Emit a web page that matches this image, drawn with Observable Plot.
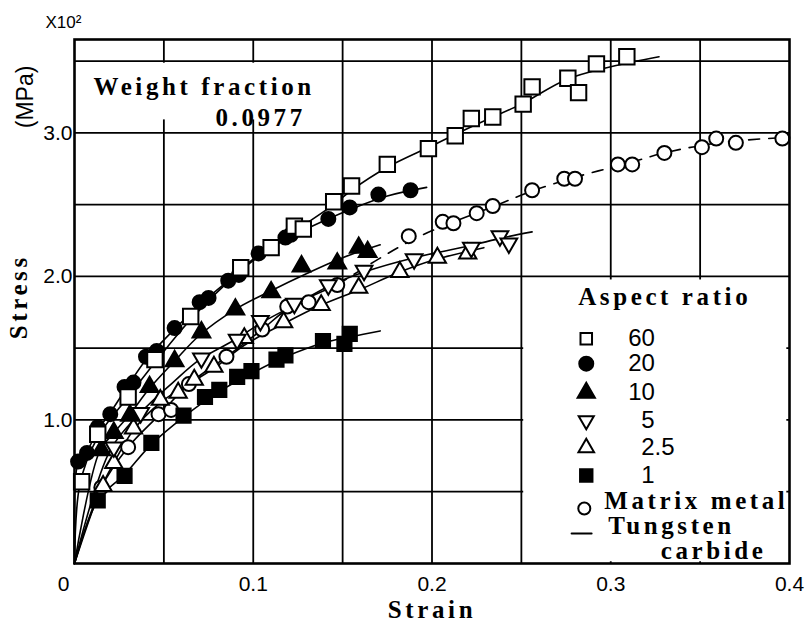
<!DOCTYPE html>
<html><head><meta charset="utf-8">
<script src="https://cdn.jsdelivr.net/npm/d3@7"></script>
<script src="https://cdn.jsdelivr.net/npm/@observablehq/plot@0.6"></script>
<style>
body{margin:0;background:#fff}
svg{display:block}
g[font-family*="Serif"] text{letter-spacing:3.6px}
</style>
</head><body><div id="chart"></div>
<script>
// ---------------- data (strain, stress x10^2 MPa) ----------------
const aspectLabels = ["60", "20", "10", "5", "2.5", "1"];
const matrixLabel = "Matrix metal";
const fitLabel = ["Tungsten", "carbide"];
const weightFraction = "0.0977";

const strain60 = [0.004,0.013,0.030,0.045,0.065,0.093,0.110,0.123,0.128,0.145,0.155,0.175,0.198,0.213,0.222,0.234,0.251,0.256,0.276,0.282,0.292,0.309];
const stress60 = [0.57,0.90,1.16,1.42,1.72,2.06,2.20,2.35,2.33,2.52,2.63,2.78,2.89,2.98,3.10,3.11,3.20,3.32,3.38,3.28,3.48,3.53];

const strain20 = [0.002,0.007,0.013,0.020,0.028,0.033,0.040,0.046,0.056,0.070,0.075,0.086,0.092,0.103,0.118,0.121,0.142,0.154,0.170,0.188];
const stress20 = [0.71,0.77,0.95,1.04,1.23,1.26,1.44,1.48,1.64,1.82,1.85,1.97,2.01,2.16,2.27,2.29,2.40,2.48,2.57,2.60];

const strain10 = [0.015,0.022,0.031,0.042,0.056,0.071,0.090,0.110,0.127,0.147,0.159,0.164];
const stress10 = [0.79,0.91,1.03,1.23,1.41,1.61,1.77,1.89,2.07,2.09,2.20,2.17];

const strain5 = [0.022,0.037,0.071,0.091,0.104,0.123,0.142,0.162,0.190,0.222,0.238,0.243];
const stress5 = [0.81,1.05,1.43,1.56,1.69,1.81,1.94,2.04,2.12,2.20,2.28,2.23];

const strain25 = [0.016,0.022,0.033,0.048,0.058,0.067,0.078,0.095,0.117,0.138,0.159,0.182,0.203,0.220];
const stress25 = [0.54,0.70,0.94,1.14,1.19,1.28,1.37,1.57,1.68,1.80,1.92,2.03,2.13,2.16];

const strain1 = [0.013,0.028,0.043,0.061,0.073,0.081,0.091,0.099,0.113,0.118,0.139,0.151,0.154];
const stress1 = [0.44,0.61,0.84,1.03,1.16,1.21,1.30,1.34,1.42,1.45,1.55,1.53,1.60];

const strainM = [0.015,0.030,0.047,0.054,0.064,0.085,0.105,0.119,0.131,0.147,0.187,0.206,0.212,0.225,0.234,0.256,0.274,0.280,0.304,0.312,0.330,0.351,0.359,0.370,0.396];
const stressM = [0.53,0.81,1.04,1.07,1.25,1.44,1.63,1.79,1.82,1.94,2.28,2.38,2.37,2.44,2.49,2.60,2.68,2.68,2.78,2.78,2.86,2.90,2.96,2.93,2.96];

// fitted curves
const fit60x = [0,0.003,0.013,0.030,0.045,0.065,0.093,0.110,0.125,0.145,0.155,0.175,0.200,0.225,0.250,0.275,0.300,0.327];
const fit60y = [0,0.55,0.88,1.16,1.40,1.70,2.04,2.20,2.33,2.50,2.60,2.76,2.91,3.06,3.20,3.37,3.46,3.53];
const fit20x = [0,0.002,0.007,0.013,0.020,0.030,0.040,0.055,0.070,0.085,0.100,0.120,0.140,0.155,0.175,0.197];
const fit20y = [0,0.70,0.78,0.93,1.05,1.24,1.42,1.62,1.80,1.96,2.12,2.27,2.39,2.47,2.56,2.62];
const fit10x = [0,0.014,0.022,0.031,0.042,0.056,0.070,0.090,0.110,0.130,0.150,0.171];
const fit10y = [0,0.78,0.91,1.04,1.22,1.41,1.59,1.77,1.90,2.02,2.13,2.22];
const fit5x = [0,0.020,0.037,0.055,0.070,0.090,0.105,0.123,0.142,0.162,0.190,0.220,0.240,0.256];
const fit5y = [0,0.79,1.05,1.26,1.42,1.56,1.68,1.80,1.93,2.03,2.13,2.21,2.27,2.31];
const fit25x = [0,0.015,0.022,0.033,0.048,0.060,0.078,0.095,0.117,0.138,0.160,0.180,0.200,0.229];
const fit25y = [0,0.53,0.70,0.93,1.12,1.22,1.36,1.52,1.67,1.80,1.91,2.02,2.11,2.20];
const fit1x = [0,0.013,0.028,0.043,0.061,0.080,0.100,0.118,0.140,0.155,0.171];
const fit1y = [0,0.44,0.62,0.83,1.02,1.19,1.33,1.44,1.54,1.58,1.62];
const fitMsolidx = [0,0.015,0.030,0.047,0.064,0.085,0.105,0.120,0.147];
const fitMsolidy = [0,0.53,0.81,1.03,1.25,1.44,1.63,1.78,1.94];
const fitMdashx = [0.147,0.170,0.190,0.210,0.235,0.255,0.280,0.310,0.330,0.360,0.400];
const fitMdashy = [1.94,2.12,2.26,2.37,2.49,2.59,2.69,2.79,2.86,2.93,2.97];

const xTicks = [0, 0.1, 0.2, 0.3, 0.4];
const xTickLabels = ["0", "0.1", "0.2", "0.3", "0.4"];
const yTicks = [1, 2, 3];
const yTickLabels = ["1.0", "2.0", "3.0"];
const gridX = [0.05, 0.10, 0.15, 0.20, 0.25, 0.30, 0.35];
const gridY = [0.5, 1.0, 1.5, 2.0, 2.5, 3.0, 3.5];

// ---------------- layout & style ----------------
const TYPE = "'Liberation Serif', 'DejaVu Serif', serif";
const SANS = "'Liberation Sans', Arial, sans-serif";
const zip = (xs, ys) => xs.map((x, i) => ({x, y: ys[i]}));
const pts = (xs, ys) => xs.map((x, i) => [x, ys[i]]);

const series = [
  {label: aspectLabels[0], xs: strain60, ys: stress60, fx: fit60x, fy: fit60y, symbol: "square",   fill: "white", r: 8.7, lr: 6.5, rot: 0},
  {label: aspectLabels[1], xs: strain20, ys: stress20, fx: fit20x, fy: fit20y, symbol: "circle",   fill: "black", r: 7,   lr: 7,   rot: 0},
  {label: aspectLabels[2], xs: strain10, ys: stress10, fx: fit10x, fy: fit10y, symbol: "triangle", fill: "black", r: 6.6, lr: 6.4, rot: 0},
  {label: aspectLabels[3], xs: strain5,  ys: stress5,  fx: fit5x,  fy: fit5y,  symbol: "triangle", fill: "white", r: 6.2, lr: 5.6, rot: 180},
  {label: aspectLabels[4], xs: strain25, ys: stress25, fx: fit25x, fy: fit25y, symbol: "triangle", fill: "white", r: 6.4, lr: 5.8, rot: 0},
  {label: aspectLabels[5], xs: strain1,  ys: stress1,  fx: fit1x,  fy: fit1y,  symbol: "square",   fill: "black", r: 8,   lr: 7,   rot: 0}
];
// legend rows (data units inside the empty lower-right box)
const legendRowY = [1.566, 1.392, 1.190, 0.995, 0.807, 0.613];
const legendNumX = [0.3098, 0.3098, 0.3098, 0.317, 0.317, 0.317];
const legendSymX = 0.2863;

const T = (s, x, y, o = {}) => Plot.text([s], {x, y, text: d => d, fontFamily: TYPE, fontWeight: "bold", fontSize: 25, ...o});

const marks = [];
// grid
marks.push(Plot.ruleX(gridX, {stroke: "black", strokeWidth: 1.8}));
marks.push(Plot.ruleY(gridY, {stroke: "black", strokeWidth: 1.8}));
// blank areas (legend box, weight fraction label)
marks.push(Plot.rect([0], {x1: 0.2513, x2: 0.3985, y1: 0.012, y2: 1.975, fill: "white"}));
marks.push(Plot.rect([0], {x1: 0.002, x2: 0.1487, y1: 3.09, y2: 3.485, fill: "white"}));
// fitted curves
for (const s of series) {
  marks.push(Plot.line(pts(s.fx, s.fy), {x: d => d[0], y: d => d[1], curve: "catmull-rom", stroke: "black", strokeWidth: 1.6}));
}
marks.push(Plot.line(pts(fitMsolidx, fitMsolidy), {x: d => d[0], y: d => d[1], curve: "catmull-rom", stroke: "black", strokeWidth: 1.6}));
marks.push(Plot.line(pts(fitMdashx, fitMdashy), {x: d => d[0], y: d => d[1], curve: "catmull-rom", stroke: "black", strokeWidth: 1.6, strokeDasharray: "11,9"}));
// markers (matrix first, then composites)
marks.push(Plot.dot(zip(strainM, stressM), {x: "x", y: "y", symbol: "circle", r: 7, fill: "white", stroke: "black", strokeWidth: 2}));
for (const s of [...series].reverse()) {
  marks.push(Plot.dot(zip(s.xs, s.ys), {x: "x", y: "y", symbol: s.symbol, r: s.r, rotate: s.rot, fill: s.fill, stroke: "black", strokeWidth: 2}));
}
// frame
marks.push(Plot.frame({stroke: "black", strokeWidth: 2.6}));
// legend
marks.push(T("Aspect ratio", 0.2818, 1.858, {textAnchor: "start"}));
series.forEach((s, i) => {
  marks.push(Plot.dot([0], {x: legendSymX, y: legendRowY[i], symbol: s.symbol, r: s.lr, rotate: s.rot, fill: s.fill, stroke: "black", strokeWidth: 2}));
  marks.push(Plot.text([s.label], {x: legendNumX[i], y: legendRowY[i], text: d => d, textAnchor: "start", fontFamily: SANS, fontSize: 24}));
});
marks.push(Plot.dot([0], {x: 0.2852, y: 0.383, symbol: "circle", r: 6, fill: "white", stroke: "black", strokeWidth: 2}));
marks.push(T(matrixLabel, 0.2964, 0.432, {textAnchor: "start"}));
marks.push(Plot.line([[0.2781, 0.209], [0.2893, 0.209]], {x: d => d[0], y: d => d[1], stroke: "black", strokeWidth: 2}));
marks.push(T(fitLabel[0], 0.2986, 0.258, {textAnchor: "start"}));
marks.push(T(fitLabel[1], 0.328, 0.088, {textAnchor: "start"}));
// weight fraction note
marks.push(T("Weight fraction", 0.0106, 3.32, {textAnchor: "start"}));
marks.push(T(weightFraction, 0.1294, 3.104, {textAnchor: "end"}));
// tick labels
marks.push(Plot.text([xTicks[0]], {x: d => d, y: -0.146, text: () => xTickLabels[0], dx: -11, fontFamily: SANS, fontSize: 21}));
marks.push(Plot.text(xTicks.slice(1), {x: d => d, y: -0.146, text: (d, i) => xTickLabels[i + 1], fontFamily: SANS, fontSize: 21}));
marks.push(Plot.text(yTicks, {x: 0, y: d => d, text: (d, i) => yTickLabels[i], textAnchor: "end", dx: -2, fontFamily: SANS, fontSize: 21}));
// axis titles
marks.push(T("Strain", 0.2, -0.327));
marks.push(T("Stress", -0.0308, 1.858, {rotate: -90}));
marks.push(Plot.text(["(MPa)"], {x: -0.0275, y: 3.25, text: d => d, rotate: -90, fontFamily: SANS, fontSize: 23}));
marks.push(Plot.text(["X10²"], {x: -0.0062, y: 3.77, text: d => d, fontFamily: SANS, fontSize: 17}));

const chart = Plot.plot({
  width: 812, height: 627,
  marginLeft: 74, marginRight: 23, marginTop: 39, marginBottom: 64,
  x: {domain: [0, 0.4], axis: null},
  y: {domain: [0, 3.65], axis: null},
  style: {background: "white", color: "black", overflow: "visible"},
  marks
});
document.getElementById("chart").appendChild(chart);
</script>
</body></html>
